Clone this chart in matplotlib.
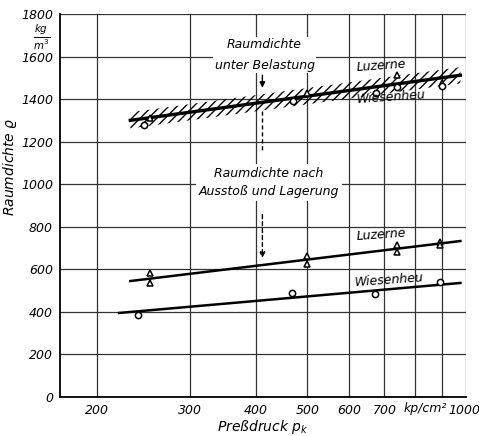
import matplotlib
matplotlib.use("Agg")
import matplotlib.pyplot as plt
import matplotlib.transforms as mtransforms
import numpy as np

# ---- data ----
x_ticks = [200, 300, 400, 500, 600, 700, 1000]
x_grid = [200, 300, 400, 500, 600, 700, 800, 900, 1000]
y_ticks = [0, 200, 400, 600, 800, 1000, 1200, 1400, 1600, 1800]

# fitted lines
band_p = [231, 975]
band_rho = [1300, 1512]
luz_fit_p = [231, 975]
luz_fit_rho = [545, 733]
wies_fit_p = [220, 975]
wies_fit_rho = [395, 536]

# measured points (under load)
luz_load_p = [252, 500, 740, 900]
luz_load_rho = [1310, 1430, 1513, 1475]
wies_load_p = [245, 470, 675, 740, 900]
wies_load_rho = [1280, 1390, 1430, 1458, 1462]

# measured points (after ejection and storage)
luz_p = [252, 252, 500, 500, 740, 740, 893, 893]
luz_rho = [584, 535, 662, 625, 714, 681, 730, 714]
wies_p = [239, 468, 673, 893]
wies_rho = [385, 489, 484, 542]

plt.rcParams['hatch.linewidth'] = 1.0
fig = plt.figure(figsize=(4.79, 4.36), dpi=100)
ax = fig.add_axes([0.1253, 0.0894, 0.848, 0.8786])
ax.set_xscale('log')
ax.set_xlim(170, 1000)
ax.set_ylim(0, 1800)

for xv in x_grid:
    ax.axvline(xv, color='#333333', lw=0.9, zorder=1)
for yv in y_ticks:
    ax.axhline(yv, color='#333333', lw=0.9, zorder=1)

ax.set_xticks(x_ticks)
ax.set_xticklabels([str(v) for v in x_ticks])
ax.xaxis.set_minor_locator(matplotlib.ticker.NullLocator())
ax.set_yticks(y_ticks)
ax.set_yticklabels([str(v) for v in y_ticks])
ax.tick_params(length=0, labelsize=9, pad=5)
for lab in ax.get_xticklabels() + ax.get_yticklabels():
    lab.set_style('italic')
# shift the last x label slightly left so it stays inside the picture
last = ax.get_xticklabels()[-1]
last.set_transform(last.get_transform() + mtransforms.ScaledTranslation(-2 / 100, 0, fig.dpi_scale_trans))
for s in ['top', 'right']:
    ax.spines[s].set_visible(False)
for s in ['left', 'bottom']:
    ax.spines[s].set_linewidth(1.3)

# hatched band
bp = np.array(band_p, dtype=float)
br = np.array(band_rho, dtype=float)
ax.fill_between(bp, br - 38, br + 38, facecolor='none', edgecolor='black',
                hatch='////', linewidth=0, zorder=2)
ax.plot(bp, br, color='black', lw=2.4, zorder=3)

ax.plot(luz_fit_p, luz_fit_rho, color='black', lw=1.8, zorder=3)
ax.plot(wies_fit_p, wies_fit_rho, color='black', lw=1.8, zorder=3)

mk = dict(markerfacecolor='white', markeredgecolor='black', markersize=4.5,
          markeredgewidth=1.1, linestyle='none', zorder=4)
ax.plot(luz_load_p, luz_load_rho, marker='^', **mk)
ax.plot(wies_load_p, wies_load_rho, marker='o', **mk)
ax.plot(luz_p, luz_rho, marker='^', **mk)
ax.plot(wies_p, wies_rho, marker='o', **mk)

tkw = dict(style='italic', fontsize=9, ha='center', va='center', zorder=5)
ax.text(415, 1607, 'Raumdichte\nunter Belastung', linespacing=1.8,
        bbox=dict(facecolor='white', edgecolor='none', pad=1), **tkw)
ax.text(423, 1008, 'Raumdichte nach\nAusstoß und Lagerung', linespacing=1.5,
        bbox=dict(facecolor='white', edgecolor='none', pad=2), **tkw)
ax.text(691, 1555, 'Luzerne', rotation=4, **tkw)
ax.text(721, 1410, 'Wiesenheu', rotation=4, **tkw)
ax.text(691, 762, 'Luzerne', rotation=4, **tkw)
ax.text(715, 548, 'Wiesenheu', rotation=4, **tkw)

# arrows
ax.annotate('', xy=(411, 1440), xytext=(411, 1525),
            arrowprops=dict(arrowstyle='-|>', color='black', lw=1, mutation_scale=8), zorder=5)
ax.plot([411, 411], [1345, 1150], color='black', lw=1, ls=(0, (3, 2)), zorder=3)
ax.annotate('', xy=(411, 640), xytext=(411, 870),
            arrowprops=dict(arrowstyle='-|>', color='black', lw=1, ls=(0, (3, 2)),
                            mutation_scale=8), zorder=5)

# axis labels
ax.set_xlabel('Preßdruck $p_k$', style='italic', fontsize=10, labelpad=1)
ax.set_ylabel('Raumdichte $\\varrho$', style='italic', fontsize=10, labelpad=2)
ax.yaxis.set_label_coords(-0.1, 0.60)
blend = mtransforms.blended_transform_factory(ax.transAxes, ax.transData)
ax.text(-0.045, 1690, r'$\frac{kg}{m^3}$', transform=blend,
        fontsize=10.5, ha='center', va='center', clip_on=False)
ax.text(0.952, -0.029, 'kp/cm²', transform=ax.transAxes, style='italic',
        fontsize=9, ha='right', va='center', clip_on=False)

fig.savefig('out.png', dpi=100)
